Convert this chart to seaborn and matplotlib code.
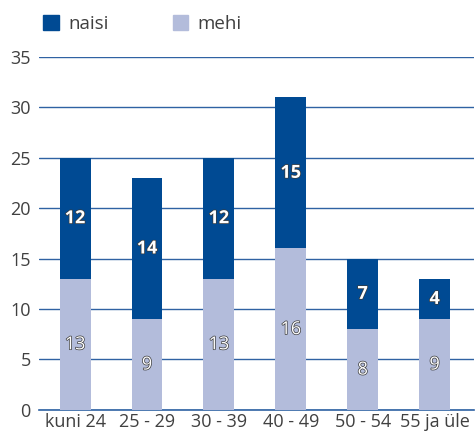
import matplotlib
matplotlib.use("Agg")
import matplotlib.pyplot as plt
import matplotlib.patheffects as pe
from matplotlib.patches import Patch
import seaborn as sns
import pandas as pd

groups = ["kuni 24", "25 - 29", "30 - 39", "40 - 49", "50 - 54", "55 ja üle"]
naisi = [12, 14, 12, 15, 7, 4]
mehi = [13, 9, 13, 16, 8, 9]

dark = "#004a93"
light = "#b3bcdb"
grid_c = "#2f62a3"
txt_c = "#404040"

sns.set_style("white")
plt.rcParams["font.family"] = ["Open Sans", "DejaVu Sans"]

df = pd.DataFrame({"grupp": groups, "naisi": naisi, "mehi": mehi})
df["kokku"] = df["naisi"] + df["mehi"]

fig = plt.figure(figsize=(4.77, 4.37), dpi=100)
ax = fig.add_axes([0.082, 0.062, 0.912, 0.808])

sns.barplot(data=df, x="grupp", y="kokku", color=dark, width=0.43,
            saturation=1, linewidth=0, ax=ax, zorder=3)
sns.barplot(data=df, x="grupp", y="mehi", color=light, width=0.43,
            saturation=1, linewidth=0, ax=ax, zorder=3)

ax.set_ylim(0, 35)
ax.set_yticks(range(0, 36, 5))
ax.set_xlim(-0.5, 5.55)
ax.yaxis.grid(True, color=grid_c, linewidth=1.0, zorder=0)
ax.set_axisbelow(True)
for s in ["left", "right", "top"]:
    ax.spines[s].set_visible(False)
ax.spines["bottom"].set_color(grid_c)
ax.spines["bottom"].set_linewidth(1.2)
ax.tick_params(length=0, labelsize=13, colors=txt_c, pad=6)
ax.tick_params(axis="x", pad=2)
ax.set_xlabel("")
ax.set_ylabel("")

stroke = [pe.withStroke(linewidth=1.0, foreground="#3a3a3a")]
for i in range(len(groups)):
    ax.text(i, mehi[i] / 2, str(mehi[i]), ha="center", va="center",
            color="white", fontsize=13, path_effects=stroke, zorder=5)
    ax.text(i, mehi[i] + naisi[i] / 2, str(naisi[i]), ha="center",
            va="center", color="white", fontsize=13, fontweight="bold",
            path_effects=stroke, zorder=5)

handles = [Patch(color=dark, label="naisi"), Patch(color=light, label="mehi")]
fig.legend(handles=handles, loc="upper left", bbox_to_anchor=(0.055, 1.005),
           ncol=2, frameon=False, fontsize=13.5, handlelength=0.85,
           handleheight=0.85, columnspacing=3.4, handletextpad=0.5,
           labelcolor=txt_c)

fig.savefig("out.png", dpi=100)
